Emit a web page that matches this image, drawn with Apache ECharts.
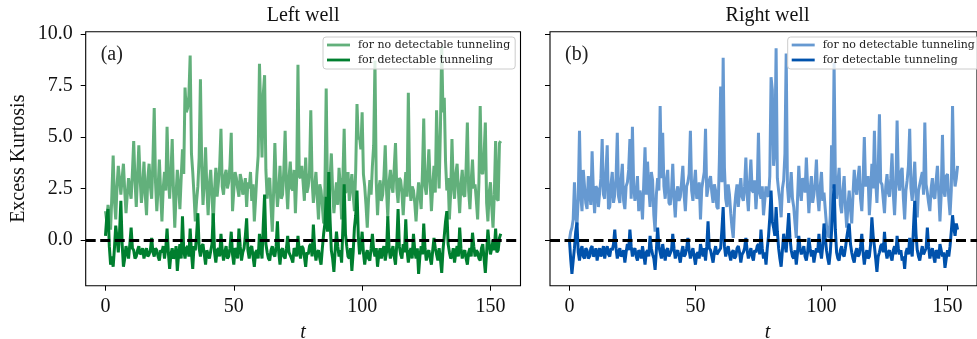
<!DOCTYPE html>
<html>
<head>
<meta charset="utf-8">
<script src="https://cdn.jsdelivr.net/npm/echarts@6/dist/echarts.min.js"></script>
<style>html,body{margin:0;padding:0;background:#fff}#c{width:977px;height:339px}</style>
</head>
<body>
<div id="c"></div>
<script>
// time samples every 0.5 from 0 to 154
const times = Array.from({length: 309}, (_, i) => i * 0.5);
const xTicks = [0, 50, 100, 150];
const yTicks = [0, 2.5, 5, 7.5, 10];
const titles = ['Left well', 'Right well'];
const panelTags = ['(a)', '(b)'];
const legendNames = ['for no detectable tunneling', 'for detectable tunneling'];

const leftNo = [
1.4,0.9,1.7,1.2,0.5,2.2,4.1,1.9,1.0,2.6,3.6,2.9,2.2,3.0,3.7,2.4,1.3,2.2,3.0,2.4,
2.0,3.3,4.8,2.9,1.6,3.1,4.6,3.0,1.8,2.6,3.8,2.2,1.2,3.0,3.7,2.6,2.0,3.9,6.4,2.8,
1.4,2.5,3.9,2.3,0.9,2.5,3.3,2.4,5.5,3.1,2.0,3.2,4.9,2.4,0.6,2.2,3.4,2.6,1.5,3.0,
4.4,3.2,7.4,6.2,6.4,7.0,8.95,4.2,3.3,2.2,0.9,1.9,2.6,4.0,7.8,3.6,1.7,2.9,4.5,2.5,
1.2,2.7,3.4,2.2,0.8,2.4,3.5,2.1,2.8,3.6,5.4,2.6,2.2,3.1,3.4,2.5,2.8,3.6,5.2,1.4,
2.4,3.3,3.0,2.5,2.1,3.2,2.9,2.2,2.4,3.0,1.6,2.8,2.5,3.3,1.9,2.7,0.9,2.0,3.2,4.1,
8.55,6.2,4.0,7.1,8.0,3.4,2.0,2.9,3.0,1.6,0.4,2.3,4.7,2.7,1.6,2.4,3.6,2.0,2.2,3.4,
5.3,2.6,1.5,3.0,3.8,2.5,2.4,3.4,1.3,3.0,8.5,3.1,3.0,3.6,2.8,1.9,4.0,2.3,2.6,3.3,
6.3,2.9,1.8,2.6,3.3,2.1,1.0,2.7,2.4,1.6,0.8,2.5,7.35,2.2,1.6,3.0,4.2,2.4,1.3,2.1,
2.8,1.7,3.5,2.6,1.0,3.0,5.4,2.3,2.4,3.3,1.9,2.6,3.2,2.2,1.4,3.4,6.6,4.9,5.0,4.4,
6.2,3.2,2.6,1.7,0.6,2.0,2.9,2.2,3.6,4.6,8.7,2.8,1.2,2.5,2.9,1.9,2.2,3.1,4.6,2.4,
1.1,2.8,3.4,2.6,2.3,3.5,4.7,2.5,1.8,3.0,2.9,2.3,1.2,2.4,3.3,2.1,7.15,2.7,1.9,2.6,
2.4,1.8,0.9,2.0,2.8,2.2,1.5,3.3,5.9,2.6,2.2,3.2,4.4,2.8,1.4,2.6,3.6,2.3,6.3,3.9,
2.5,5.4,9.4,6.2,6.9,3.8,2.4,3.0,1.0,2.3,4.9,2.7,2.0,3.2,3.7,2.4,1.3,2.7,3.4,2.2,
2.1,3.5,5.7,2.4,1.5,2.9,3.9,2.5,2.7,1.9,1.0,2.8,6.5,3.3,3.2,4.1,5.7,1.8,0.9,2.3,
2.8,1.6,0.6,2.2,4.8,2.0,1.9,4.7,4.8];

const leftYes = [
0.2,1.1,1.5,-0.3,-1.2,-0.8,-1.3,-0.4,0.7,0.1,-0.6,0.4,1.9,-0.2,-1.3,-0.9,-0.3,-0.6,-0.9,-0.2,
0.6,-0.4,-0.5,-0.9,-0.8,-0.5,-0.3,-0.7,-0.6,-0.4,-0.9,-0.6,-0.4,-0.8,-0.7,-0.5,0.1,-0.6,-0.8,-0.4,
-0.5,-0.8,-1.0,-0.5,-0.6,-0.3,-0.9,-0.4,0.55,-0.6,-1.4,-0.7,-0.4,-0.9,-0.8,-0.3,-1.5,-0.7,-0.2,-0.9,
1.15,-0.5,-0.9,-0.4,-0.3,-0.8,0.55,-0.6,-1.4,-0.3,-0.5,0.2,1.3,-0.4,-0.8,-0.3,-0.2,-0.7,-1.2,-0.5,
-0.5,-0.9,-0.9,-0.2,1.3,-0.6,-1.1,-0.5,-0.4,-0.8,0.3,-0.5,-1.0,-0.6,-0.3,-0.9,-0.8,-0.4,0.4,-0.7,
-1.2,-0.4,-0.5,-0.9,0.55,-0.3,-1.0,-0.6,-0.4,0.2,1.05,-0.5,-0.9,-0.4,-0.3,-0.8,-1.3,-0.6,-0.5,-0.9,
0.3,-0.4,-0.9,0.8,2.2,-0.2,-0.6,-0.9,-1.0,-0.5,-0.3,-0.7,-0.8,-0.3,0.9,-0.6,-1.2,-0.5,-0.4,-0.8,
-0.9,-0.4,0.2,-0.6,-0.6,-0.9,-1.1,-0.4,-0.5,-0.8,0.2,-0.5,-0.9,-0.3,-0.4,-0.8,-1.3,-0.6,-0.7,-0.3,
-0.2,-0.8,0.75,-0.4,-1.0,-0.6,-0.5,-0.9,-1.2,-0.4,0.3,0.8,2.1,0.4,3.3,1.0,-0.5,-0.9,-1.55,-0.5,
0.4,-0.3,-0.8,-0.5,-1.1,0.6,2.7,0.3,-0.3,-0.8,-0.9,-0.4,-1.5,-0.6,0.6,1.2,2.4,0.2,-0.7,-0.3,
0.4,-0.6,-1.2,-0.7,-0.5,-0.9,-1.0,-0.4,0.3,-0.5,-0.8,-0.4,-1.3,-0.7,-0.4,-0.9,-0.5,-0.3,-1.0,-0.6,
1.15,-0.4,-0.9,-0.6,-0.3,-0.8,-1.2,-0.2,1.5,-0.3,-0.7,-0.9,-0.2,-0.6,1.0,-0.5,-1.1,-0.6,-0.4,-0.9,
0.3,-0.5,-0.9,-0.4,-1.65,-0.8,-0.3,-0.7,0.8,-0.4,-1.0,-0.6,-0.5,-0.9,-1.2,-0.5,0.1,-0.4,-0.7,-1.0,
-0.4,-0.9,-1.6,-0.5,0.2,0.9,1.4,-0.2,-0.6,-0.9,-0.8,-0.4,-1.1,-0.6,-0.3,-0.8,0.6,-0.4,-0.9,-0.6,
-0.5,-0.9,-1.2,-0.6,-0.4,-0.8,0.35,-0.3,-0.8,-0.5,-0.6,-0.9,-1.0,-0.4,-0.2,-0.9,-1.6,-0.6,0.5,-0.2,
-0.7,-0.4,0.0,-0.5,0.55,-0.6,-0.5,0.1,0.3];

const rightNo = [
0.0,0.4,0.6,1.0,2.8,1.2,0.7,2.0,5.3,2.2,1.4,3.4,2.6,1.8,1.5,3.1,2.3,1.7,4.3,2.4,
1.3,2.6,2.5,1.6,1.6,3.0,4.9,2.2,2.0,3.3,4.6,1.5,1.6,2.7,3.3,1.8,2.2,3.0,5.2,2.1,
1.8,2.9,3.7,1.9,1.5,2.6,2.8,3.4,4.9,2.0,5.5,2.6,1.9,2.3,3.1,1.4,2.4,2.0,1.0,2.8,
4.5,2.2,3.8,2.5,1.6,3.3,2.9,1.2,0.4,2.2,3.0,2.4,6.5,3.0,5.2,2.6,2.0,2.9,3.4,1.8,
1.7,2.4,3.7,2.0,1.1,2.3,2.6,1.9,2.1,2.8,3.6,2.2,1.4,2.6,2.8,3.2,5.3,2.4,1.9,2.7,
3.4,2.0,2.2,2.8,1.0,2.5,2.9,3.3,5.4,2.1,2.5,2.9,3.1,2.3,1.8,2.7,2.4,1.6,1.5,3.9,
7.45,2.8,8.85,3.5,2.0,1.6,2.7,2.2,1.3,0.6,0.1,1.5,2.2,2.7,1.6,2.4,3.0,2.1,1.9,2.6,
4.0,2.2,1.4,2.8,3.9,2.4,2.3,2.9,1.5,2.5,5.2,2.3,2.0,2.6,1.2,1.9,2.6,2.2,2.1,3.1,
7.9,7.3,3.6,4.4,9.3,3.0,2.4,1.9,1.1,2.5,2.9,4.2,9.05,2.6,1.8,2.4,3.3,2.0,1.6,0.8,
0.1,2.0,3.6,2.4,1.9,3.0,2.7,2.3,4.0,2.6,1.3,2.4,3.1,1.8,2.2,2.8,3.9,2.1,1.4,2.6,
3.3,1.9,2.3,1.5,0.7,0.3,0.1,1.2,4.6,2.5,8.6,3.2,2.0,2.7,3.5,1.7,1.3,2.4,3.1,1.6,
0.6,1.7,2.4,1.5,0.8,2.2,3.4,2.5,2.2,3.0,3.6,2.0,1.4,2.8,5.0,2.6,2.6,3.1,1.2,2.3,
3.7,2.5,5.3,2.9,1.8,3.4,6.1,2.8,2.7,2.0,1.3,2.6,3.2,2.3,2.1,3.0,4.2,2.2,1.2,2.6,
5.8,2.9,2.4,3.3,3.5,2.0,1.0,2.4,2.9,3.6,5.4,2.5,1.9,2.8,3.8,2.1,1.1,2.4,2.7,3.0,
3.3,2.2,5.7,2.7,2.3,1.8,1.4,2.5,3.0,2.1,2.0,2.9,3.6,2.3,0.9,2.2,5.1,2.4,2.1,3.1,
3.2,2.0,1.2,2.4,6.5,3.4,2.6,3.0,3.6];

const rightYes = [
0.0,-0.9,-1.65,-1.0,-0.4,0.4,0.85,-0.6,-1.0,-0.5,-0.3,-0.8,-0.9,-0.4,-0.5,-0.9,-0.8,-0.4,-0.3,-0.8,
-0.7,-0.4,-1.0,-0.6,-0.4,-0.8,-0.6,-0.3,-0.9,-0.5,-0.3,-0.7,-0.8,-0.4,-0.5,-0.2,0.5,-0.4,-0.9,-0.6,
-0.4,-0.8,-0.7,-0.5,-1.1,-0.6,-0.2,-0.5,0.5,-0.3,-0.8,-0.5,-0.4,-0.8,-1.0,-0.5,-0.6,-0.9,-0.3,-0.7,
-1.2,-0.6,-0.5,-0.8,0.2,-0.4,-0.7,-0.9,-1.45,-0.5,0.6,-0.3,-0.6,-0.9,-0.2,-0.6,-1.0,-0.5,-0.4,-0.8,
-0.8,-0.5,0.3,-0.4,-0.9,-0.6,-0.5,-0.8,-1.1,-0.6,-0.3,-0.8,-0.7,-0.4,0.1,-0.5,-0.9,-0.6,-0.4,-0.8,
-1.2,-0.7,-0.6,-0.9,-0.2,-0.5,-0.8,-0.4,-1.0,-0.3,0.9,-0.4,-0.5,-0.8,-1.1,-0.6,-0.3,-0.7,-0.7,-0.5,
-0.4,0.5,1.6,-0.3,-0.8,-0.5,-0.3,-0.7,-1.0,-0.6,-0.5,-0.9,-0.8,-0.4,-0.3,-0.6,-1.1,-0.7,-0.6,-0.4,
0.1,-0.5,-0.9,-0.6,-0.4,-0.8,-1.0,-0.5,-0.6,-0.3,-0.2,-0.7,0.5,-0.4,-0.9,-0.6,-1.2,-0.4,0.2,1.1,
2.4,0.9,0.6,0.2,1.6,0.4,-0.4,-0.9,-1.3,-0.5,0.3,-0.2,-0.6,0.4,1.3,0.1,-0.5,-0.8,-0.9,-0.5,
-1.2,-0.6,0.2,-0.4,-0.7,-0.5,-0.3,-0.8,-1.0,-0.6,0.1,-0.4,-0.8,-0.5,-1.1,-0.7,-0.4,-0.6,0.3,-0.5,
-0.9,-0.3,0.8,0.1,-0.5,-0.9,-1.2,-0.6,0.4,1.6,2.7,0.5,-0.6,-0.9,-1.0,-0.5,-0.3,-0.7,-0.8,-0.4,
0.1,0.5,0.8,-0.2,-0.6,-0.9,-1.1,-0.6,-0.4,-0.8,-0.7,-0.3,0.3,-0.6,-1.2,-0.7,-0.5,-0.9,-0.8,-0.2,
1.1,0.2,-0.3,-0.9,-1.55,-0.8,-0.6,-0.3,-0.2,-0.6,0.4,-0.5,-0.9,-0.6,-0.5,-0.8,-1.0,-0.5,-0.3,-0.7,
0.2,-0.4,-0.7,-0.5,-1.0,-0.8,-1.4,-0.6,-0.4,-0.7,0.1,-0.5,-0.8,0.6,1.9,0.3,-0.5,-0.8,-1.0,-0.6,
-0.3,-0.7,-0.7,-0.4,0.6,-0.3,-0.9,-0.6,-0.4,-0.8,-1.1,-0.5,-0.6,-0.9,-0.2,-0.5,-0.8,-0.6,-1.35,-0.9,
-0.5,-0.8,-0.3,0.4,1.2,0.6,0.2,0.8,0.5];

const colors = [['#62b07b', '#007f2f'], ['#6699d1', '#0052ac']];
const panelData = [[leftNo, leftYes], [rightNo, rightYes]];

const SERIF = 'Liberation Serif';
const grids = [
  {left: 85.7, top: 31.7, width: 434.8, height: 254},
  {left: 550, top: 31.7, width: 435, height: 254}
];
const legendPos = [{left: 323, top: 37}, {left: 787.7, top: 37}];

const option = {
  animation: false,
  backgroundColor: '#fff',
  grid: grids.map(g => Object.assign({show: true, borderColor: '#000', borderWidth: 1.1, backgroundColor: 'transparent'}, g)),
  xAxis: [0, 1].map(i => ({
    type: 'value', gridIndex: i, min: -7.7, max: 161.7,
    splitLine: {show: false},
    axisLine: {show: false, onZero: false},
    axisTick: {show: true, length: 5, lineStyle: {color: '#000', width: 1}, customValues: xTicks},
    axisLabel: {show: true, customValues: xTicks, margin: 11, fontFamily: SERIF, fontSize: 20, color: '#111'}
  })),
  yAxis: [0, 1].map(i => ({
    type: 'value', gridIndex: i, min: -2.22, max: 10.11,
    splitLine: {show: false},
    axisLine: {show: false, onZero: false},
    axisTick: {show: true, length: 5, lineStyle: {color: '#000', width: 1}, customValues: yTicks},
    axisLabel: {show: i === 0, customValues: yTicks, margin: 13, fontFamily: SERIF, fontSize: 20, color: '#111',
      formatter: v => Number(v).toFixed(1)}
  })),
  legend: [0, 1].map(i => ({
    orient: 'vertical', left: legendPos[i].left, top: legendPos[i].top,
    data: legendNames.map(n => ({name: (i ? 'R|' : 'L|') + n, icon: 'rect'})),
    formatter: n => n.slice(2),
    itemWidth: 23, itemHeight: 2.8, itemGap: 3,
    padding: [2, 5, 3, 4],
    backgroundColor: 'rgba(255,255,255,0.8)', borderColor: '#cccccc', borderWidth: 1, borderRadius: 3,
    textStyle: {fontFamily: 'DejaVu Serif', fontSize: 11, color: '#222', lineHeight: 12, padding: [0, 0, 0, 3]},
    selectedMode: false
  })),
  series: [],
  graphic: []
};

[0, 1].forEach(i => {
  [0, 1].forEach(k => {
    option.series.push({
      type: 'line', name: (i ? 'R|' : 'L|') + legendNames[k],
      xAxisIndex: i, yAxisIndex: i,
      data: times.map((t, j) => [t, panelData[i][k][j]]),
      symbol: 'none', z: 2 + k,
      itemStyle: {color: colors[i][k]},
      lineStyle: {color: colors[i][k], width: 3},
      clip: true
    });
  });
  option.series.push({
    type: 'line', xAxisIndex: i, yAxisIndex: i, data: [], z: 10, silent: true,
    markLine: {
      silent: true, symbol: ['none', 'none'], label: {show: false},
      lineStyle: {color: '#000', width: 3, type: [10, 4.5]},
      data: [{yAxis: 0}], animation: false
    }
  });
  const g = grids[i];
  const cx = g.left + g.width / 2;
  option.graphic.push({
    type: 'text', x: cx, y: 16, z: 20,
    style: {text: titles[i], font: '20px "' + SERIF + '"', fill: '#111', align: 'center', verticalAlign: 'middle'}
  });
  option.graphic.push({
    type: 'text', x: cx, y: 333, z: 20,
    style: {text: 't', font: 'italic 20px "' + SERIF + '"', fill: '#111', align: 'center', verticalAlign: 'middle'}
  });
  option.graphic.push({
    type: 'text', x: g.left + 15, y: 55, z: 20,
    style: {text: panelTags[i], font: '20px "' + SERIF + '"', fill: '#222', align: 'left', verticalAlign: 'middle'}
  });
});
option.graphic.push({
  type: 'text', x: 18.6, y: 158.7, rotation: Math.PI / 2, z: 20,
  style: {text: 'Excess Kurtosis', font: '20px "' + SERIF + '"', fill: '#111', align: 'center', verticalAlign: 'middle'}
});

const chart = echarts.init(document.getElementById('c'));
chart.setOption(option);
</script>
</body>
</html>
